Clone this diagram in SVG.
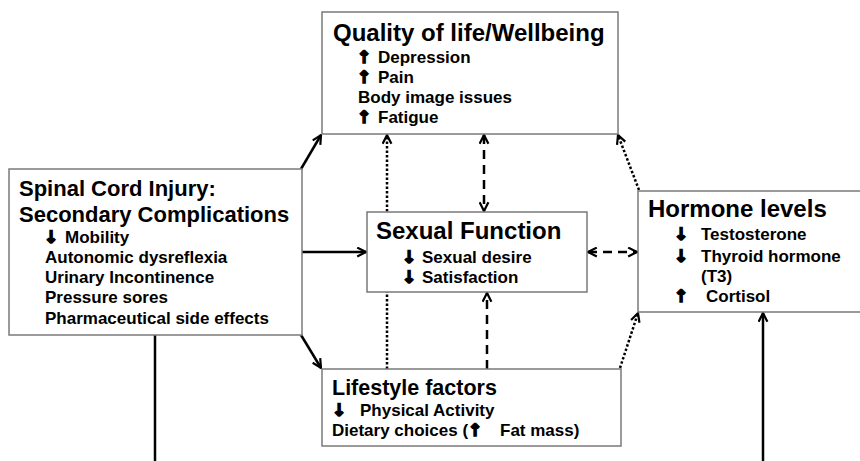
<svg xmlns="http://www.w3.org/2000/svg" width="860" height="461" viewBox="0 0 860 461">
<style>
.box{fill:#fff;stroke:#7a7a7a;stroke-width:1.5}
.t{font-family:"Liberation Sans",Arial,sans-serif;font-weight:bold;fill:#000}
.h1{font-size:24px}
.h2{font-size:22px}
.b{font-size:17px}
.ar{font-family:"DejaVu Sans",sans-serif;font-weight:bold;font-size:17px;fill:#000;stroke:#000;stroke-width:1.6;stroke-linejoin:miter}
.c{fill:none;stroke:#000;stroke-width:2.5}
.dot{stroke-dasharray:2.5 2}
.dash{stroke-dasharray:9 6}
</style>
<defs>
<marker id="ah" viewBox="0 0 10 10" refX="9" refY="5" markerUnits="userSpaceOnUse" markerWidth="11" markerHeight="11" orient="auto-start-reverse">
<path d="M1,1 L9,5 L1,9" fill="none" stroke="#000" stroke-width="2"/>
</marker>
</defs>
<g id="connectors">
<path class="c" d="M301,169 L321,135" marker-end="url(#ah)"/>
<path class="c" d="M302,252 L366,252" marker-end="url(#ah)"/>
<path class="c" d="M301,335 L321,368" marker-end="url(#ah)"/>
<path class="c dot" d="M639,190 L618,135" marker-end="url(#ah)"/>
<path class="c dot" d="M620,368 L638,313" marker-end="url(#ah)"/>
<path class="c dot" d="M387,369 L387,135" marker-end="url(#ah)"/>
<path class="c dash" d="M484,135 L484,211" marker-start="url(#ah)" marker-end="url(#ah)"/>
<path class="c dash" d="M487,369 L487,293" marker-end="url(#ah)"/>
<path class="c dash" d="M588,252 L637,252" marker-start="url(#ah)" marker-end="url(#ah)"/>
<path class="c" d="M155,335 L155,461"/>
<path class="c" d="M763,461 L763,313" marker-end="url(#ah)"/>
</g>
<g id="qol">
<rect class="box" x="322" y="12" width="296" height="122"/>
<text class="t h1" x="333" y="41">Quality of life/Wellbeing</text>
<text class="ar" x="357" y="63">↑</text><text class="t b" x="378" y="63">Depression</text>
<text class="ar" x="357" y="83">↑</text><text class="t b" x="378" y="83">Pain</text>
<text class="t b" x="358" y="103">Body image issues</text>
<text class="ar" x="357" y="123">↑</text><text class="t b" x="378" y="123">Fatigue</text>
</g>
<g id="sci">
<rect class="box" x="9" y="169" width="293" height="166"/>
<text class="t h2" x="19" y="196">Spinal Cord Injury:</text>
<text class="t h2" x="19" y="222">Secondary Complications</text>
<text class="ar" x="44" y="243">↓</text><text class="t b" x="65" y="243">Mobility</text>
<text class="t b" x="45" y="263">Autonomic dysreflexia</text>
<text class="t b" x="45" y="283">Urinary Incontinence</text>
<text class="t b" x="45" y="303">Pressure sores</text>
<text class="t b" x="45" y="324">Pharmaceutical side effects</text>
</g>
<g id="sexual">
<rect class="box" x="367" y="212" width="220" height="80"/>
<text class="t h1" x="376" y="239">Sexual Function</text>
<text class="ar" x="402" y="263">↓</text><text class="t b" x="422" y="263">Sexual desire</text>
<text class="ar" x="402" y="283">↓</text><text class="t b" x="422" y="283">Satisfaction</text>
</g>
<g id="hormone">
<rect class="box" x="638" y="191" width="230" height="121"/>
<text class="t h1" x="648" y="217">Hormone levels</text>
<text class="ar" x="674" y="240">↓</text><text class="t b" x="701" y="240">Testosterone</text>
<text class="ar" x="674" y="262">↓</text><text class="t b" x="701" y="262">Thyroid hormone</text>
<text class="t b" x="701" y="282">(T3)</text>
<text class="ar" x="674" y="302">↑</text><text class="t b" x="706" y="302">Cortisol</text>
</g>
<g id="lifestyle">
<rect class="box" x="322" y="369" width="299" height="77"/>
<text class="t" font-size="21.5" x="332" y="395">Lifestyle factors</text>
<text class="ar" x="332" y="416">↓</text><text class="t b" x="360" y="416">Physical Activity</text>
<text class="t b" x="332" y="436">Dietary choices (<tspan class="ar">↑</tspan><tspan x="500">Fat mass)</tspan></text>
</g>
</svg>
